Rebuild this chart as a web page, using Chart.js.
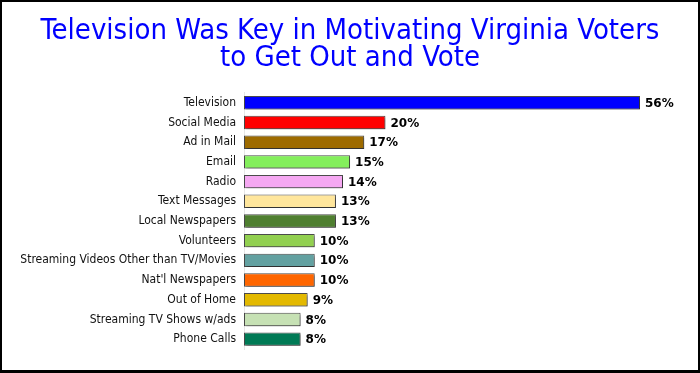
<!DOCTYPE html>
<html>
<head>
<meta charset="utf-8">
<script src="https://cdn.jsdelivr.net/npm/chart.js@4.4.1/dist/chart.umd.min.js"></script>
<style>
    html, body { margin: 0; padding: 0; background: #fff; }
    .frame { width: 700px; height: 373px; box-sizing: border-box; border: 2px solid #000; border-bottom-width: 3px; position: relative; }
    .frame canvas { display: block; }
</style>
</head>
<body>
<div class="frame"><canvas id="chart" width="696" height="368"></canvas></div>
<script>
// ===== Data =====
const categories = [
    'Television', 'Social Media', 'Ad in Mail', 'Email', 'Radio', 'Text Messages',
    'Local Newspapers', 'Volunteers', 'Streaming Videos Other than TV/Movies',
    "Nat'l Newspapers", 'Out of Home', 'Streaming TV Shows w/ads', 'Phone Calls'
];
const values = [56, 20, 17, 15, 14, 13, 13, 10, 10, 10, 9, 8, 8];
const barColors = [
    '#0000ff', '#ff0000', '#9e6b00', '#84ef5c', '#f5a8f2', '#ffe69c',
    '#4f7f30', '#92d050', '#63a1a1', '#ff6600', '#e3b900', '#c6e1b4', '#007a55'
];
const titleLines = ['Television Was Key in Motivating Virginia Voters', 'to Get Out and Vote'];

const FONT = "'DejaVu Sans Condensed', 'DejaVu Sans', sans-serif";

// ===== Plugins =====
// soft drop shadow under the bars
const barShadow = {
    id: 'barShadow',
    beforeDatasetsDraw(chart) {
        const ctx = chart.ctx;
        ctx.save();
        ctx.shadowColor = 'rgba(0,0,0,0.35)';
        ctx.shadowOffsetX = 2;
        ctx.shadowOffsetY = 2;
        ctx.shadowBlur = 2;
    },
    afterDatasetsDraw(chart) {
        chart.ctx.restore();
    }
};

// percent labels at the end of each bar
const valueLabels = {
    id: 'valueLabels',
    afterDatasetsDraw(chart) {
        const ctx = chart.ctx;
        const meta = chart.getDatasetMeta(0);
        ctx.save();
        ctx.font = "bold 12px 'DejaVu Sans', sans-serif";
        ctx.fillStyle = '#000';
        ctx.textAlign = 'left';
        ctx.textBaseline = 'middle';
        meta.data.forEach((bar, i) => {
            ctx.fillText(values[i] + '%', bar.x + 5, bar.y + 1);
        });
        ctx.restore();
    }
};

// ===== Chart =====
const ctx = document.getElementById('chart').getContext('2d');
new Chart(ctx, {
    type: 'bar',
    data: {
        labels: categories,
        datasets: [{
            data: values,
            backgroundColor: barColors,
            borderColor: 'rgba(30,30,30,0.8)',
            borderWidth: 1,
            borderSkipped: false,
            categoryPercentage: 1,
            barPercentage: 0.68
        }]
    },
    options: {
        indexAxis: 'y',
        responsive: false,
        animation: false,
        layout: { padding: { top: 16, right: 0, bottom: 21, left: 0 } },
        plugins: {
            legend: { display: false },
            tooltip: { enabled: false },
            title: {
                display: true,
                text: titleLines,
                color: '#0000ff',
                font: { family: FONT, size: 29, weight: 'normal', lineHeight: 0.93 },
                padding: { top: 0, bottom: 21 }
            }
        },
        scales: {
            x: { display: false, min: 0, max: 64.2 },
            y: {
                grid: { display: false },
                border: { color: '#e6e6e6' },
                ticks: { color: '#111', font: { family: FONT, size: 12 }, padding: 0 },
                afterFit: (s) => { s.width = 242; }
            }
        }
    },
    plugins: [barShadow, valueLabels]
});
</script>
</body>
</html>
